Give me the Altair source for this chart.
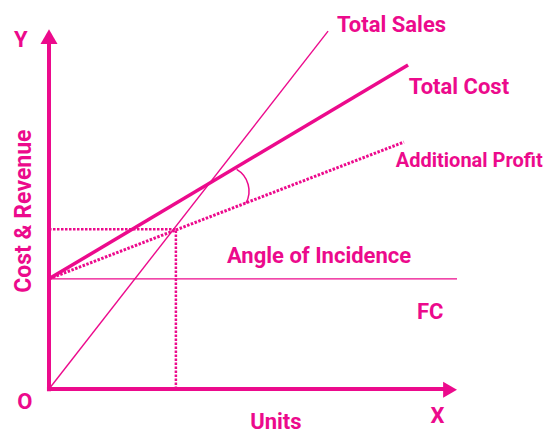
import altair as alt
import pandas as pd

PINK = "#EC0A8C"
FONT = "Roboto"

# Lines (units on x, cost & revenue on y, 0-100 scale)
ts_units = [0, 68.4]
ts_value = [0, 99.4]
tc_units = [0, 88]
tc_value = [30.6, 90]
ap_units = [0, 87]
ap_value = [30.6, 68.6]
fc_units = [0, 100]
fc_value = [30.6, 30.6]
be_units = 31.1
be_value = 44.4

# Annotation labels
lab_text = ["Total Sales", "Total Cost", "Angle of Incidence", "FC"]
lab_x = [70.6, 88.2, 43.6, 90.2]
lab_y = [99.2, 81.9, 35.0, 19.4]
ap_text = ["Additional Profit"]
ap_x = [85.0]
ap_y = [61.7]

xs = alt.Scale(domain=[0, 100], range=[41, 449])
ys = alt.Scale(domain=[0, 100], range=[381, 21])


def line_df(xv, yv):
    return pd.DataFrame({"u": xv, "v": yv})


def enc(ch):
    return ch.encode(
        x=alt.X("u:Q", scale=xs, axis=None),
        y=alt.Y("v:Q", scale=ys, axis=None),
    )


ts = enc(alt.Chart(line_df(ts_units, ts_value)).mark_line(color=PINK, strokeWidth=1.4))
tc = enc(alt.Chart(line_df(tc_units, tc_value)).mark_line(color=PINK, strokeWidth=3.5))
ap = enc(alt.Chart(line_df(ap_units, ap_value)).mark_line(color=PINK, strokeWidth=3, strokeDash=[2.5, 1.5]))
fc = enc(alt.Chart(line_df(fc_units, fc_value)).mark_line(color=PINK, strokeWidth=1.4))

guide_h = enc(alt.Chart(line_df([0, be_units], [be_value, be_value])).mark_line(color=PINK, strokeWidth=2.5, strokeDash=[2.5, 1.5]))
guide_v = enc(alt.Chart(line_df([be_units, be_units], [0, be_value])).mark_line(color=PINK, strokeWidth=2.5, strokeDash=[2.5, 1.5]))

# axes with arrowheads
y_axis = enc(alt.Chart(line_df([0, 0], [-0.6, 97])).mark_line(color=PINK, strokeWidth=4))
x_axis = enc(alt.Chart(line_df([-0.5, 98], [0, 0])).mark_line(color=PINK, strokeWidth=4))
y_head = enc(alt.Chart(line_df([0], [97.9])).mark_point(shape="triangle-up", size=289, filled=True, color=PINK, opacity=1))
x_head = enc(alt.Chart(line_df([98.3], [-0.2])).mark_point(shape="triangle-right", size=256, filled=True, color=PINK, opacity=1))

# angle arc
arc = enc(alt.Chart(line_df([42.9], [55.0])).mark_arc(
    radius=25, radius2=25, theta=0.53, theta2=2.08,
    filled=False, stroke=PINK, strokeWidth=1.5))


def text_layer(t, u, v, size, align="left"):
    return alt.Chart(pd.DataFrame({"t": t, "u": u, "v": v})).mark_text(
        align=align, baseline="alphabetic", font=FONT, fontSize=size, fontWeight="bold", color=PINK
    ).encode(
        x=alt.X("u:Q", scale=xs, axis=None),
        y=alt.Y("v:Q", scale=ys, axis=None),
        text="t:N",
    )


labels = text_layer(lab_text, lab_x, lab_y, 22)
ap_label = text_layer(ap_text, ap_x, ap_y, 20)

ax_text = ["Y", "O", "X", "Units"]
ax_x = [-6.9, -5.9, 95.2, 55.6]
ax_y = [95.0, -5.6, -9.4, -11.1]
ax_labels = text_layer(ax_text, ax_x, ax_y, 22, align="center")

ytitle = alt.Chart(pd.DataFrame({"t": ["Cost & Revenue"], "u": [-6.1], "v": [49.4]})).mark_text(
    align="center", baseline="middle", angle=270, font=FONT, fontSize=23, fontWeight="bold", color=PINK
).encode(
    x=alt.X("u:Q", scale=xs, axis=None),
    y=alt.Y("v:Q", scale=ys, axis=None),
    text="t:N",
)

chart = alt.layer(
    fc, guide_h, guide_v, ap, tc, ts, arc, y_axis, x_axis, y_head, x_head,
    labels, ap_label, ax_labels, ytitle
).properties(width=544, height=425, padding=0, autosize="none").configure_view(stroke=None)

chart.save("out.html", embed_options={"renderer": "svg", "actions": False})
